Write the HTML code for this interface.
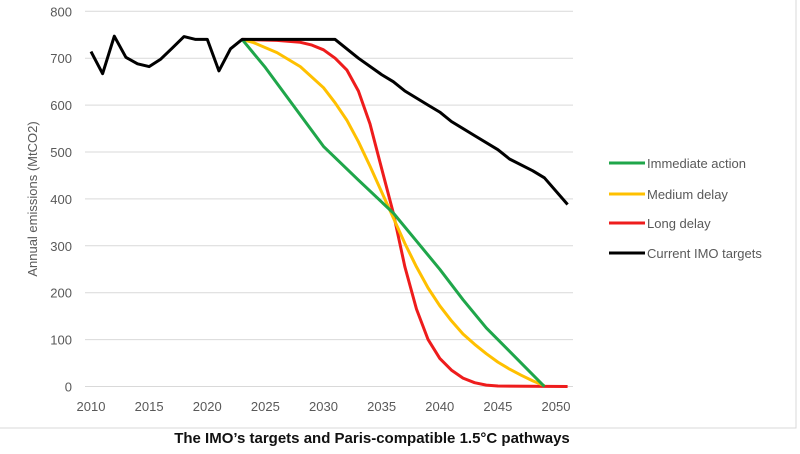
<!DOCTYPE html>
<html><head><meta charset="utf-8"><style>
html,body{margin:0;padding:0;background:#fff;width:800px;height:454px;overflow:hidden}
svg text{font-family:"Liberation Sans",sans-serif}
</style></head><body>
<svg id="s" width="800" height="454" xmlns="http://www.w3.org/2000/svg">
<rect x="-2" y="-2" width="798" height="430" fill="#fff" stroke="#d9d9d9" stroke-width="1"/>
<g id="grid" stroke="#d9d9d9" stroke-width="1"></g>
<g id="yl" fill="#595959" font-size="13" text-anchor="end"></g>
<g id="xl" fill="#595959" font-size="13" text-anchor="middle"></g>
<text transform="translate(37,199) rotate(-90)" fill="#595959" font-size="13" text-anchor="middle">Annual emissions (MtCO2)</text>
<g id="lines" fill="none" stroke-width="3" stroke-linejoin="round"></g>
<g font-size="13" fill="#595959">
<line x1="609" y1="163" x2="645" y2="163" stroke="#1fa64a" stroke-width="3"/><text x="647" y="168">Immediate action</text>
<line x1="609" y1="194" x2="645" y2="194" stroke="#ffc000" stroke-width="3"/><text x="647" y="199">Medium delay</text>
<line x1="609" y1="223" x2="645" y2="223" stroke="#ee1c1c" stroke-width="3"/><text x="647" y="228">Long delay</text>
<line x1="609" y1="253" x2="645" y2="253" stroke="#000" stroke-width="3"/><text x="647" y="258">Current IMO targets</text>
</g>
<text x="372" y="443" font-size="15" font-weight="bold" fill="#111" text-anchor="middle">The IMO’s targets and Paris-compatible 1.5°C pathways</text>
</svg>
<script>
var NS="http://www.w3.org/2000/svg";
function X(y){return 91+(y-2010)*11.625}
function Y(v){return 386.5-v*0.469}
var g=document.getElementById("grid"),yl=document.getElementById("yl"),xl=document.getElementById("xl");
for(var v=0;v<=800;v+=100){var l=document.createElementNS(NS,"line");l.setAttribute("x1",85);l.setAttribute("x2",573);l.setAttribute("y1",Y(v));l.setAttribute("y2",Y(v));g.appendChild(l);
var t=document.createElementNS(NS,"text");t.setAttribute("x",72);t.setAttribute("y",Y(v)+5);t.textContent=v;yl.appendChild(t);}
for(var y=2010;y<=2050;y+=5){var t=document.createElementNS(NS,"text");t.setAttribute("x",X(y));t.setAttribute("y",411);t.textContent=y;xl.appendChild(t);}
var S={
"#ee1c1c":[[2023,740],[2026,738],[2028,734],[2029,728],[2030,718],[2031,700],[2032,675],[2033,630],[2034,560],[2035,465],[2036,370],[2037,255],[2038,165],[2039,100],[2040,60],[2041,35],[2042,18],[2043,8],[2044,3],[2045,1],[2051,0]],
"#ffc000":[[2023,740],[2024,733],[2026,712],[2028,682],[2030,637],[2031,605],[2032,568],[2033,522],[2034,470],[2035,415],[2036,360],[2037,305],[2038,255],[2039,210],[2040,172],[2041,140],[2042,112],[2043,90],[2044,70],[2045,52],[2046,37],[2047,24],[2048,12],[2049,2]],
"#1fa64a":[[2023,740],[2025,680],[2030,512],[2033,440],[2036,370],[2038,310],[2040,250],[2042,185],[2044,125],[2049,0]],
"#000":[[2010,714],[2011,667],[2012,747],[2013,702],[2014,688],[2015,682],[2016,698],[2017,722],[2018,746],[2019,740],[2020,740],[2021,673],[2022,720],[2023,740],[2031,740],[2033,700],[2035,665],[2036,650],[2037,630],[2039,600],[2040,585],[2041,565],[2043,535],[2045,505],[2046,485],[2048,460],[2049,445],[2051,388]]};
var lg=document.getElementById("lines");
for(var c in S){var p=document.createElementNS(NS,"polyline");p.setAttribute("stroke",c);p.setAttribute("points",S[c].map(function(d){return X(d[0]).toFixed(1)+","+Y(d[1]).toFixed(1)}).join(" "));lg.appendChild(p);}
</script>
</body></html>
